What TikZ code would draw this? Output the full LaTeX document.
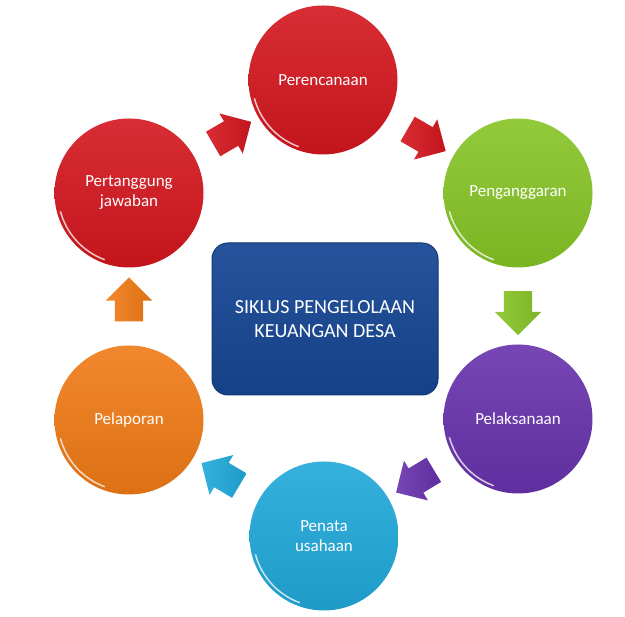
\documentclass[tikz,border=0pt]{standalone}
\usepackage{fontspec}
\setmainfont{Carlito}
\usetikzlibrary{shapes.arrows}

\definecolor{merah}{RGB}{212,22,30}
\definecolor{hijau}{RGB}{134,196,38}
\definecolor{ungu}{RGB}{104,50,172}
\definecolor{biru}{RGB}{24,72,150}
\definecolor{toska}{RGB}{32,168,218}
\definecolor{oranye}{RGB}{240,122,22}

\begin{document}
\begin{tikzpicture}[x=1pt,y=1pt]
\tikzstyle{every node}+=[inner sep=0pt]
\tikzset{
  bulat/.style={circle, minimum size=149pt, top color=#1!90!white, bottom color=#1!92!black,
    text=white, align=center, font=\fontsize{17}{20}\selectfont},
  panah/.style={single arrow, inner sep=14pt, minimum height=44pt, minimum width=46pt,
    single arrow head extend=9pt, single arrow tip angle=90,
    left color=#1!90!white, right color=#1!92!black, sloped, allow upside down}
}
\useasboundingbox (0,0) rectangle (625,617);

% kotak tengah
\node[draw=biru!75!black, line width=1pt, rounded corners=16pt,
  top color=biru!94!white, bottom color=biru!90!black,
  minimum width=226pt, minimum height=152pt, text=white, align=center,
  font=\fontsize{20}{24}\selectfont] (siklus) at (325,298) {SIKLUS PENGELOLAAN\\KEUANGAN DESA};

% lingkaran
\node[bulat=merah] (rencana) at (323,537) {Perencanaan};
\node[bulat=hijau] (anggaran) at (518,424) {Penganggaran};
\node[bulat=ungu] (laksana) at (518,198) {Pelaksanaan};
\node[bulat=toska] (penata) at (324,81) {Penata\\usahaan};
\node[bulat=oranye] (lapor) at (129,197) {Pelaporan};
\node[bulat=merah] (tanggung) at (129,424) {Pertanggung\\jawaban};

% kilau
\foreach \n in {rencana,anggaran,laksana,penata,lapor,tanggung}
  \draw[white, line width=1.5pt, opacity=.75] ([shift={(195:71)}]\n.center) arc (195:250:71);

% panah
\path (tanggung) -- (rencana) node[midway, panah=merah] {};
\path (rencana) -- (anggaran) node[midway, panah=merah] {};
\path (anggaran) -- (laksana) node[midway, panah=hijau] {};
\path (laksana) -- (penata) node[midway, panah=ungu] {};
\path (penata) -- (lapor) node[midway, panah=toska] {};
\path (lapor) -- (tanggung) node[midway, panah=oranye] {};
\end{tikzpicture}
\end{document}
